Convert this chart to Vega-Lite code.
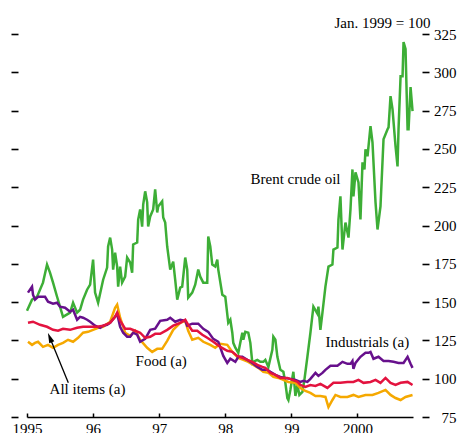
{
  "$schema": "https://vega.github.io/schema/vega-lite/v6.json",
  "width": 386,
  "height": 383,
  "autosize": "none",
  "padding": {"left": 27, "top": 34, "right": 44, "bottom": 16},
  "background": "white",
  "datasets": {
    "series": [
      {"s":"oil","t":1995.000,"v":144.4},{"s":"oil","t":1995.076,"v":151.6},{"s":"oil","t":1995.152,"v":153.5},{"s":"oil","t":1995.242,"v":162.7},{"s":"oil","t":1995.303,"v":174.5},{"s":"oil","t":1995.348,"v":169.2},{"s":"oil","t":1995.394,"v":162.7},{"s":"oil","t":1995.455,"v":153.5},{"s":"oil","t":1995.545,"v":140.4},{"s":"oil","t":1995.652,"v":143.1},{"s":"oil","t":1995.697,"v":149.6},{"s":"oil","t":1995.758,"v":143.1},{"s":"oil","t":1995.803,"v":145.0},{"s":"oil","t":1995.848,"v":151.6},{"s":"oil","t":1995.909,"v":158.1},{"s":"oil","t":1995.955,"v":161.4},{"s":"oil","t":1996.000,"v":177.7},{"s":"oil","t":1996.030,"v":156.2},{"s":"oil","t":1996.076,"v":149.6},{"s":"oil","t":1996.152,"v":164.6},{"s":"oil","t":1996.212,"v":172.5},{"s":"oil","t":1996.227,"v":186.3},{"s":"oil","t":1996.258,"v":192.1},{"s":"oil","t":1996.288,"v":184.3},{"s":"oil","t":1996.303,"v":171.2},{"s":"oil","t":1996.333,"v":182.3},{"s":"oil","t":1996.364,"v":173.2},{"s":"oil","t":1996.379,"v":160.1},{"s":"oil","t":1996.409,"v":173.2},{"s":"oil","t":1996.439,"v":162.7},{"s":"oil","t":1996.485,"v":166.6},{"s":"oil","t":1996.515,"v":179.1},{"s":"oil","t":1996.561,"v":175.8},{"s":"oil","t":1996.591,"v":169.2},{"s":"oil","t":1996.606,"v":187.6},{"s":"oil","t":1996.667,"v":188.9},{"s":"oil","t":1996.682,"v":203.9},{"s":"oil","t":1996.712,"v":210.5},{"s":"oil","t":1996.742,"v":199.3},{"s":"oil","t":1996.758,"v":213.7},{"s":"oil","t":1996.788,"v":222.3},{"s":"oil","t":1996.818,"v":215.1},{"s":"oil","t":1996.833,"v":199.3},{"s":"oil","t":1996.864,"v":205.9},{"s":"oil","t":1996.909,"v":210.5},{"s":"oil","t":1996.939,"v":223.6},{"s":"oil","t":1996.970,"v":208.5},{"s":"oil","t":1996.985,"v":212.4},{"s":"oil","t":1997.045,"v":215.7},{"s":"oil","t":1997.061,"v":205.2},{"s":"oil","t":1997.091,"v":201.9},{"s":"oil","t":1997.121,"v":186.3},{"s":"oil","t":1997.167,"v":171.2},{"s":"oil","t":1997.212,"v":176.4},{"s":"oil","t":1997.242,"v":164.6},{"s":"oil","t":1997.273,"v":151.6},{"s":"oil","t":1997.318,"v":159.4},{"s":"oil","t":1997.348,"v":160.1},{"s":"oil","t":1997.394,"v":179.1},{"s":"oil","t":1997.424,"v":171.2},{"s":"oil","t":1997.439,"v":152.9},{"s":"oil","t":1997.500,"v":156.2},{"s":"oil","t":1997.545,"v":161.4},{"s":"oil","t":1997.591,"v":171.2},{"s":"oil","t":1997.621,"v":166.6},{"s":"oil","t":1997.667,"v":162.7},{"s":"oil","t":1997.727,"v":162.7},{"s":"oil","t":1997.742,"v":192.8},{"s":"oil","t":1997.773,"v":186.3},{"s":"oil","t":1997.803,"v":174.5},{"s":"oil","t":1997.848,"v":173.2},{"s":"oil","t":1997.879,"v":177.7},{"s":"oil","t":1997.894,"v":171.2},{"s":"oil","t":1997.955,"v":154.8},{"s":"oil","t":1998.000,"v":153.5},{"s":"oil","t":1998.045,"v":136.5},{"s":"oil","t":1998.076,"v":138.5},{"s":"oil","t":1998.106,"v":130.0},{"s":"oil","t":1998.121,"v":123.4},{"s":"oil","t":1998.152,"v":120.2},{"s":"oil","t":1998.197,"v":116.9},{"s":"oil","t":1998.227,"v":123.4},{"s":"oil","t":1998.258,"v":130.0},{"s":"oil","t":1998.273,"v":125.4},{"s":"oil","t":1998.303,"v":130.6},{"s":"oil","t":1998.348,"v":130.0},{"s":"oil","t":1998.379,"v":123.4},{"s":"oil","t":1998.409,"v":110.3},{"s":"oil","t":1998.424,"v":111.0},{"s":"oil","t":1998.485,"v":112.3},{"s":"oil","t":1998.530,"v":111.0},{"s":"oil","t":1998.576,"v":111.0},{"s":"oil","t":1998.606,"v":112.3},{"s":"oil","t":1998.652,"v":107.7},{"s":"oil","t":1998.712,"v":118.8},{"s":"oil","t":1998.727,"v":127.4},{"s":"oil","t":1998.758,"v":125.4},{"s":"oil","t":1998.788,"v":114.3},{"s":"oil","t":1998.833,"v":105.8},{"s":"oil","t":1998.879,"v":104.5},{"s":"oil","t":1998.909,"v":97.3},{"s":"oil","t":1998.939,"v":87.4},{"s":"oil","t":1998.955,"v":86.1},{"s":"oil","t":1998.985,"v":92.7},{"s":"oil","t":1999.030,"v":104.5},{"s":"oil","t":1999.061,"v":88.7},{"s":"oil","t":1999.091,"v":95.9},{"s":"oil","t":1999.121,"v":89.4},{"s":"oil","t":1999.167,"v":91.4},{"s":"oil","t":1999.197,"v":99.2},{"s":"oil","t":1999.242,"v":114.3},{"s":"oil","t":1999.288,"v":130.0},{"s":"oil","t":1999.333,"v":147.0},{"s":"oil","t":1999.394,"v":142.4},{"s":"oil","t":1999.409,"v":147.0},{"s":"oil","t":1999.439,"v":131.9},{"s":"oil","t":1999.470,"v":143.1},{"s":"oil","t":1999.515,"v":160.1},{"s":"oil","t":1999.561,"v":173.2},{"s":"oil","t":1999.621,"v":174.5},{"s":"oil","t":1999.636,"v":184.3},{"s":"oil","t":1999.697,"v":185.6},{"s":"oil","t":1999.712,"v":203.9},{"s":"oil","t":1999.742,"v":219.0},{"s":"oil","t":1999.773,"v":184.3},{"s":"oil","t":1999.818,"v":201.9},{"s":"oil","t":1999.864,"v":192.1},{"s":"oil","t":1999.894,"v":210.5},{"s":"oil","t":1999.924,"v":236.6},{"s":"oil","t":1999.939,"v":219.0},{"s":"oil","t":1999.970,"v":234.7},{"s":"oil","t":2000.015,"v":228.1},{"s":"oil","t":2000.045,"v":203.9},{"s":"oil","t":2000.076,"v":241.2},{"s":"oil","t":2000.106,"v":236.6},{"s":"oil","t":2000.121,"v":249.7},{"s":"oil","t":2000.152,"v":245.2},{"s":"oil","t":2000.197,"v":264.8},{"s":"oil","t":2000.227,"v":254.3},{"s":"oil","t":2000.273,"v":215.1},{"s":"oil","t":2000.303,"v":197.4},{"s":"oil","t":2000.348,"v":212.4},{"s":"oil","t":2000.394,"v":256.3},{"s":"oil","t":2000.455,"v":262.8},{"s":"oil","t":2000.470,"v":264.1},{"s":"oil","t":2000.500,"v":284.4},{"s":"oil","t":2000.530,"v":275.9},{"s":"oil","t":2000.576,"v":251.7},{"s":"oil","t":2000.606,"v":238.6},{"s":"oil","t":2000.621,"v":262.8},{"s":"oil","t":2000.652,"v":297.5},{"s":"oil","t":2000.682,"v":297.5},{"s":"oil","t":2000.697,"v":319.8},{"s":"oil","t":2000.727,"v":315.2},{"s":"oil","t":2000.758,"v":262.8},{"s":"oil","t":2000.773,"v":262.8},{"s":"oil","t":2000.803,"v":290.3},{"s":"oil","t":2000.833,"v":274.6},

      {"s":"food","t":1995.015,"v":124.1},{"s":"food","t":1995.076,"v":122.1},{"s":"food","t":1995.121,"v":123.4},{"s":"food","t":1995.167,"v":124.1},{"s":"food","t":1995.242,"v":120.8},{"s":"food","t":1995.318,"v":122.1},{"s":"food","t":1995.394,"v":120.2},{"s":"food","t":1995.470,"v":122.1},{"s":"food","t":1995.545,"v":123.4},{"s":"food","t":1995.621,"v":125.4},{"s":"food","t":1995.697,"v":124.1},{"s":"food","t":1995.773,"v":126.7},{"s":"food","t":1995.848,"v":130.0},{"s":"food","t":1995.924,"v":130.6},{"s":"food","t":1996.000,"v":131.9},{"s":"food","t":1996.076,"v":133.2},{"s":"food","t":1996.152,"v":133.9},{"s":"food","t":1996.258,"v":137.2},{"s":"food","t":1996.333,"v":146.3},{"s":"food","t":1996.364,"v":148.3},{"s":"food","t":1996.409,"v":139.8},{"s":"food","t":1996.485,"v":130.0},{"s":"food","t":1996.561,"v":128.0},{"s":"food","t":1996.636,"v":131.3},{"s":"food","t":1996.712,"v":125.4},{"s":"food","t":1996.818,"v":120.2},{"s":"food","t":1996.894,"v":117.5},{"s":"food","t":1996.970,"v":119.5},{"s":"food","t":1997.045,"v":119.5},{"s":"food","t":1997.121,"v":124.7},{"s":"food","t":1997.212,"v":131.9},{"s":"food","t":1997.318,"v":136.5},{"s":"food","t":1997.394,"v":137.8},{"s":"food","t":1997.439,"v":131.3},{"s":"food","t":1997.500,"v":125.4},{"s":"food","t":1997.591,"v":126.7},{"s":"food","t":1997.667,"v":124.1},{"s":"food","t":1997.773,"v":122.1},{"s":"food","t":1997.848,"v":120.2},{"s":"food","t":1997.924,"v":122.8},{"s":"food","t":1998.030,"v":122.1},{"s":"food","t":1998.106,"v":117.5},{"s":"food","t":1998.197,"v":113.6},{"s":"food","t":1998.273,"v":112.3},{"s":"food","t":1998.348,"v":111.0},{"s":"food","t":1998.424,"v":109.0},{"s":"food","t":1998.500,"v":107.1},{"s":"food","t":1998.576,"v":104.5},{"s":"food","t":1998.652,"v":103.8},{"s":"food","t":1998.727,"v":101.2},{"s":"food","t":1998.803,"v":100.5},{"s":"food","t":1998.879,"v":99.2},{"s":"food","t":1998.955,"v":97.9},{"s":"food","t":1999.061,"v":97.3},{"s":"food","t":1999.136,"v":94.0},{"s":"food","t":1999.212,"v":92.0},{"s":"food","t":1999.288,"v":90.7},{"s":"food","t":1999.364,"v":88.7},{"s":"food","t":1999.439,"v":88.7},{"s":"food","t":1999.515,"v":88.1},{"s":"food","t":1999.561,"v":81.5},{"s":"food","t":1999.621,"v":86.1},{"s":"food","t":1999.667,"v":89.4},{"s":"food","t":1999.742,"v":88.1},{"s":"food","t":1999.848,"v":88.1},{"s":"food","t":1999.939,"v":89.4},{"s":"food","t":2000.015,"v":88.1},{"s":"food","t":2000.121,"v":89.4},{"s":"food","t":2000.227,"v":89.4},{"s":"food","t":2000.318,"v":90.7},{"s":"food","t":2000.424,"v":92.7},{"s":"food","t":2000.500,"v":89.4},{"s":"food","t":2000.576,"v":87.4},{"s":"food","t":2000.652,"v":86.1},{"s":"food","t":2000.727,"v":88.1},{"s":"food","t":2000.833,"v":89.4},

      {"s":"ind","t":1995.015,"v":156.2},{"s":"ind","t":1995.076,"v":160.1},{"s":"ind","t":1995.091,"v":154.8},{"s":"ind","t":1995.121,"v":151.6},{"s":"ind","t":1995.167,"v":153.5},{"s":"ind","t":1995.273,"v":153.5},{"s":"ind","t":1995.318,"v":150.3},{"s":"ind","t":1995.394,"v":149.0},{"s":"ind","t":1995.455,"v":149.6},{"s":"ind","t":1995.500,"v":147.0},{"s":"ind","t":1995.576,"v":146.3},{"s":"ind","t":1995.652,"v":143.7},{"s":"ind","t":1995.697,"v":145.0},{"s":"ind","t":1995.758,"v":138.5},{"s":"ind","t":1995.803,"v":140.4},{"s":"ind","t":1995.848,"v":139.8},{"s":"ind","t":1995.909,"v":138.5},{"s":"ind","t":1995.955,"v":137.2},{"s":"ind","t":1996.030,"v":134.6},{"s":"ind","t":1996.106,"v":133.2},{"s":"ind","t":1996.152,"v":134.6},{"s":"ind","t":1996.212,"v":135.2},{"s":"ind","t":1996.258,"v":136.5},{"s":"ind","t":1996.333,"v":140.4},{"s":"ind","t":1996.364,"v":142.4},{"s":"ind","t":1996.409,"v":133.9},{"s":"ind","t":1996.455,"v":130.0},{"s":"ind","t":1996.515,"v":127.4},{"s":"ind","t":1996.561,"v":127.4},{"s":"ind","t":1996.606,"v":130.0},{"s":"ind","t":1996.667,"v":128.7},{"s":"ind","t":1996.712,"v":124.1},{"s":"ind","t":1996.788,"v":126.0},{"s":"ind","t":1996.864,"v":131.9},{"s":"ind","t":1996.939,"v":132.6},{"s":"ind","t":1997.015,"v":137.8},{"s":"ind","t":1997.121,"v":138.5},{"s":"ind","t":1997.167,"v":139.8},{"s":"ind","t":1997.242,"v":137.2},{"s":"ind","t":1997.318,"v":138.5},{"s":"ind","t":1997.394,"v":137.8},{"s":"ind","t":1997.424,"v":134.6},{"s":"ind","t":1997.500,"v":135.9},{"s":"ind","t":1997.591,"v":135.9},{"s":"ind","t":1997.667,"v":132.6},{"s":"ind","t":1997.742,"v":130.6},{"s":"ind","t":1997.818,"v":126.0},{"s":"ind","t":1997.894,"v":124.1},{"s":"ind","t":1997.970,"v":114.9},{"s":"ind","t":1998.030,"v":110.3},{"s":"ind","t":1998.076,"v":113.0},{"s":"ind","t":1998.152,"v":111.0},{"s":"ind","t":1998.197,"v":114.3},{"s":"ind","t":1998.258,"v":114.3},{"s":"ind","t":1998.333,"v":112.3},{"s":"ind","t":1998.409,"v":110.3},{"s":"ind","t":1998.485,"v":107.7},{"s":"ind","t":1998.561,"v":105.8},{"s":"ind","t":1998.636,"v":105.8},{"s":"ind","t":1998.682,"v":104.5},{"s":"ind","t":1998.758,"v":102.5},{"s":"ind","t":1998.833,"v":101.2},{"s":"ind","t":1998.909,"v":100.5},{"s":"ind","t":1998.985,"v":99.9},{"s":"ind","t":1999.061,"v":99.2},{"s":"ind","t":1999.136,"v":97.9},{"s":"ind","t":1999.182,"v":98.6},{"s":"ind","t":1999.242,"v":97.9},{"s":"ind","t":1999.288,"v":99.9},{"s":"ind","t":1999.364,"v":103.8},{"s":"ind","t":1999.409,"v":101.8},{"s":"ind","t":1999.470,"v":103.8},{"s":"ind","t":1999.515,"v":105.8},{"s":"ind","t":1999.591,"v":108.4},{"s":"ind","t":1999.697,"v":108.4},{"s":"ind","t":1999.773,"v":111.0},{"s":"ind","t":1999.848,"v":109.7},{"s":"ind","t":1999.894,"v":109.7},{"s":"ind","t":1999.924,"v":111.6},{"s":"ind","t":1999.939,"v":106.4},{"s":"ind","t":1999.970,"v":110.3},{"s":"ind","t":2000.045,"v":114.3},{"s":"ind","t":2000.121,"v":116.9},{"s":"ind","t":2000.167,"v":116.9},{"s":"ind","t":2000.197,"v":117.5},{"s":"ind","t":2000.242,"v":113.0},{"s":"ind","t":2000.318,"v":114.3},{"s":"ind","t":2000.394,"v":111.6},{"s":"ind","t":2000.470,"v":111.6},{"s":"ind","t":2000.545,"v":111.0},{"s":"ind","t":2000.621,"v":110.3},{"s":"ind","t":2000.697,"v":110.3},{"s":"ind","t":2000.758,"v":114.3},{"s":"ind","t":2000.803,"v":109.7},{"s":"ind","t":2000.833,"v":107.1},

      {"s":"all","t":1995.015,"v":136.5},{"s":"all","t":1995.091,"v":137.2},{"s":"all","t":1995.197,"v":135.2},{"s":"all","t":1995.303,"v":133.9},{"s":"all","t":1995.394,"v":131.9},{"s":"all","t":1995.470,"v":131.3},{"s":"all","t":1995.545,"v":132.6},{"s":"all","t":1995.652,"v":131.9},{"s":"all","t":1995.758,"v":133.2},{"s":"all","t":1995.848,"v":133.9},{"s":"all","t":1995.955,"v":133.9},{"s":"all","t":1996.061,"v":133.9},{"s":"all","t":1996.152,"v":134.6},{"s":"all","t":1996.258,"v":136.5},{"s":"all","t":1996.333,"v":140.4},{"s":"all","t":1996.364,"v":143.1},{"s":"all","t":1996.409,"v":137.8},{"s":"all","t":1996.485,"v":132.6},{"s":"all","t":1996.561,"v":132.6},{"s":"all","t":1996.636,"v":131.3},{"s":"all","t":1996.712,"v":130.0},{"s":"all","t":1996.788,"v":126.7},{"s":"all","t":1996.864,"v":127.4},{"s":"all","t":1996.939,"v":129.3},{"s":"all","t":1997.015,"v":129.3},{"s":"all","t":1997.121,"v":131.9},{"s":"all","t":1997.212,"v":134.6},{"s":"all","t":1997.318,"v":136.5},{"s":"all","t":1997.394,"v":138.5},{"s":"all","t":1997.439,"v":135.2},{"s":"all","t":1997.500,"v":131.3},{"s":"all","t":1997.576,"v":131.3},{"s":"all","t":1997.652,"v":128.7},{"s":"all","t":1997.727,"v":126.7},{"s":"all","t":1997.818,"v":124.1},{"s":"all","t":1997.924,"v":120.8},{"s":"all","t":1998.030,"v":118.2},{"s":"all","t":1998.106,"v":117.5},{"s":"all","t":1998.182,"v":114.9},{"s":"all","t":1998.258,"v":113.6},{"s":"all","t":1998.333,"v":112.3},{"s":"all","t":1998.409,"v":111.0},{"s":"all","t":1998.485,"v":109.0},{"s":"all","t":1998.561,"v":107.7},{"s":"all","t":1998.606,"v":107.1},{"s":"all","t":1998.682,"v":103.8},{"s":"all","t":1998.758,"v":102.5},{"s":"all","t":1998.833,"v":100.5},{"s":"all","t":1998.939,"v":100.5},{"s":"all","t":1999.015,"v":99.2},{"s":"all","t":1999.091,"v":97.9},{"s":"all","t":1999.136,"v":95.9},{"s":"all","t":1999.212,"v":94.6},{"s":"all","t":1999.288,"v":95.9},{"s":"all","t":1999.364,"v":95.3},{"s":"all","t":1999.439,"v":96.6},{"s":"all","t":1999.545,"v":94.0},{"s":"all","t":1999.636,"v":97.3},{"s":"all","t":1999.742,"v":97.3},{"s":"all","t":1999.848,"v":97.9},{"s":"all","t":1999.939,"v":97.9},{"s":"all","t":2000.015,"v":99.2},{"s":"all","t":2000.091,"v":97.3},{"s":"all","t":2000.197,"v":97.9},{"s":"all","t":2000.273,"v":99.2},{"s":"all","t":2000.348,"v":97.3},{"s":"all","t":2000.424,"v":100.5},{"s":"all","t":2000.500,"v":97.3},{"s":"all","t":2000.576,"v":95.9},{"s":"all","t":2000.652,"v":97.3},{"s":"all","t":2000.758,"v":97.9},{"s":"all","t":2000.833,"v":95.9}
    ],
    "labels": [
      {"label": "Brent crude oil", "t": 1999.062, "v": 230.1},
      {"label": "Industrials (a)", "t": 2000.15, "v": 123.8},
      {"label": "Food (a)", "t": 1997.03, "v": 111.7},
      {"label": "All items (a)", "t": 1995.915, "v": 93.3}
    ],
    "arrow": [
      {"t": 1995.625, "v": 97.3, "t2": 1995.346, "v2": 126.8}
    ]
  },
  "layer": [
    {
      "data": {"name": "series"},
      "mark": {"type": "line", "strokeWidth": 2.5},
      "encoding": {
        "x": {"field": "t", "type": "quantitative", "scale": {"domain": [1995, 2000.84], "nice": false, "zero": false},
              "axis": {"title": null, "values": [1995, 1996, 1997, 1998, 1999, 2000], "format": "d", "labelExpr": "datum.value == 1995 || datum.value == 2000 ? datum.label : substring(datum.label, 2)"}},
        "y": {"field": "v", "type": "quantitative", "scale": {"domain": [75, 325], "nice": false, "zero": false},
              "axis": {"orient": "left", "title": null, "values": [75, 100, 125, 150, 175, 200, 225, 250, 275, 300, 325]}},
        "color": {"field": "s", "type": "nominal", "legend": null,
                  "scale": {"domain": ["oil", "food", "ind", "all"], "range": ["#3DAE36", "#F5A800", "#67108C", "#E3133F"]}}
      }
    },
    {
      "data": {"name": "labels"},
      "mark": {"type": "text", "font": "Liberation Serif", "fontSize": 15, "color": "#000", "align": "center", "baseline": "middle"},
      "encoding": {
        "x": {"field": "t", "type": "quantitative"},
        "y": {"field": "v", "type": "quantitative",
              "axis": {"orient": "right", "title": "Jan. 1999 = 100", "values": [75, 100, 125, 150, 175, 200, 225, 250, 275, 300, 325]}},
        "text": {"field": "label"}
      }
    },
    {
      "data": {"name": "arrow"},
      "mark": {"type": "rule", "color": "#000", "strokeWidth": 1.3},
      "encoding": {
        "x": {"field": "t", "type": "quantitative"},
        "y": {"field": "v", "type": "quantitative", "axis": null},
        "x2": {"field": "t2"},
        "y2": {"field": "v2"}
      }
    },
    {
      "data": {"name": "arrow"},
      "mark": {"type": "point", "shape": "M0,-1L0.55,1L-0.55,1Z", "filled": true, "color": "#000", "opacity": 1, "size": 100, "angle": 337.5},
      "encoding": {
        "x": {"field": "t2", "type": "quantitative"},
        "y": {"field": "v2", "type": "quantitative", "axis": null}
      }
    }
  ],
  "resolve": {"axis": {"y": "independent"}},
  "config": {
    "view": {"stroke": null},
    "font": "Liberation Serif",
    "axis": {"grid": false, "labelFont": "Liberation Serif", "labelFontSize": 15, "labelColor": "#000", "tickColor": "#000", "domainColor": "#000", "titleFont": "Liberation Serif", "titleFontSize": 15, "titleFontWeight": "normal", "titleColor": "#000"},
    "axisX": {"domainWidth": 1.5, "tickSize": -4, "tickWidth": 1.5, "labelPadding": 8, "labelFlush": false, "labelOverlap": false},
    "axisLeft": {"offset": 9, "tickSize": 7, "tickWidth": 1.6, "labels": false, "domain": false},
    "axisRight": {"offset": 9, "tickSize": 7, "tickWidth": 1.6, "labelAlign": "right", "labelPadding": 27, "labelBaseline": "middle", "domain": false, "titleAngle": 0, "titleAlign": "right", "titleBaseline": "alphabetic", "titleX": 8, "titleY": -7}
  }
}
